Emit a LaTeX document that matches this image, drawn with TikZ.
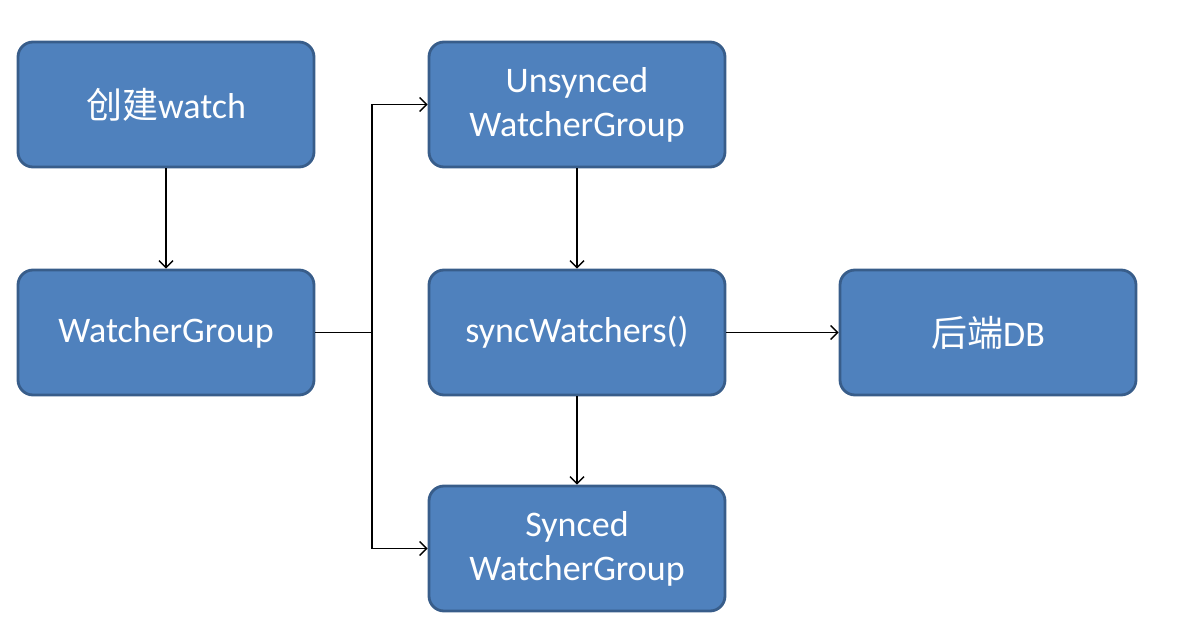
\documentclass[tikz,border=0pt]{standalone}
\usepackage{fontspec}
\setmainfont{Carlito}
\newfontfamily\cjk{Noto Sans CJK SC}
\usetikzlibrary{arrows.meta}
\definecolor{boxfill}{HTML}{4F81BD}
\definecolor{boxdraw}{HTML}{385D8A}
\begin{document}
\begin{tikzpicture}[x=1pt,y=-1pt,
  box/.style={draw=boxdraw,fill=boxfill,line width=2.8pt,rounded corners=15pt,
    minimum width=296pt,minimum height=125pt,inner sep=0pt,
    text=white,font=\fontsize{36}{44}\selectfont,align=center},
  conn/.style={line width=1.4pt,-{Straight Barb[length=7pt,width=14pt,line width=1.4pt]}},
  line/.style={line width=1.4pt}]
\useasboundingbox (0,0) rectangle (1187,644);
\node[box] (create) at (166,104.5) {{\cjk 创建}watch};
\node[box] (wg) at (166,332.5) {WatcherGroup};
\node[box] (uns) at (577,104.5) {Unsynced\\WatcherGroup};
\node[box] (sw) at (577,332.5) {syncWatchers()};
\node[box] (db) at (988,332.5) {{\cjk 后端}DB};
\node[box] (syn) at (577,548.5) {Synced\\WatcherGroup};
\coordinate (j) at (372,332.5);
\draw[conn] (create) -- (wg);
\draw[line] (wg.east) -- (j);
\draw[conn] (j) |- (uns.west);
\draw[conn] (j) |- (syn.west);
\draw[conn] (uns) -- (sw);
\draw[conn] (sw) -- (syn);
\draw[conn] (sw) -- (db);
\end{tikzpicture}
\end{document}
